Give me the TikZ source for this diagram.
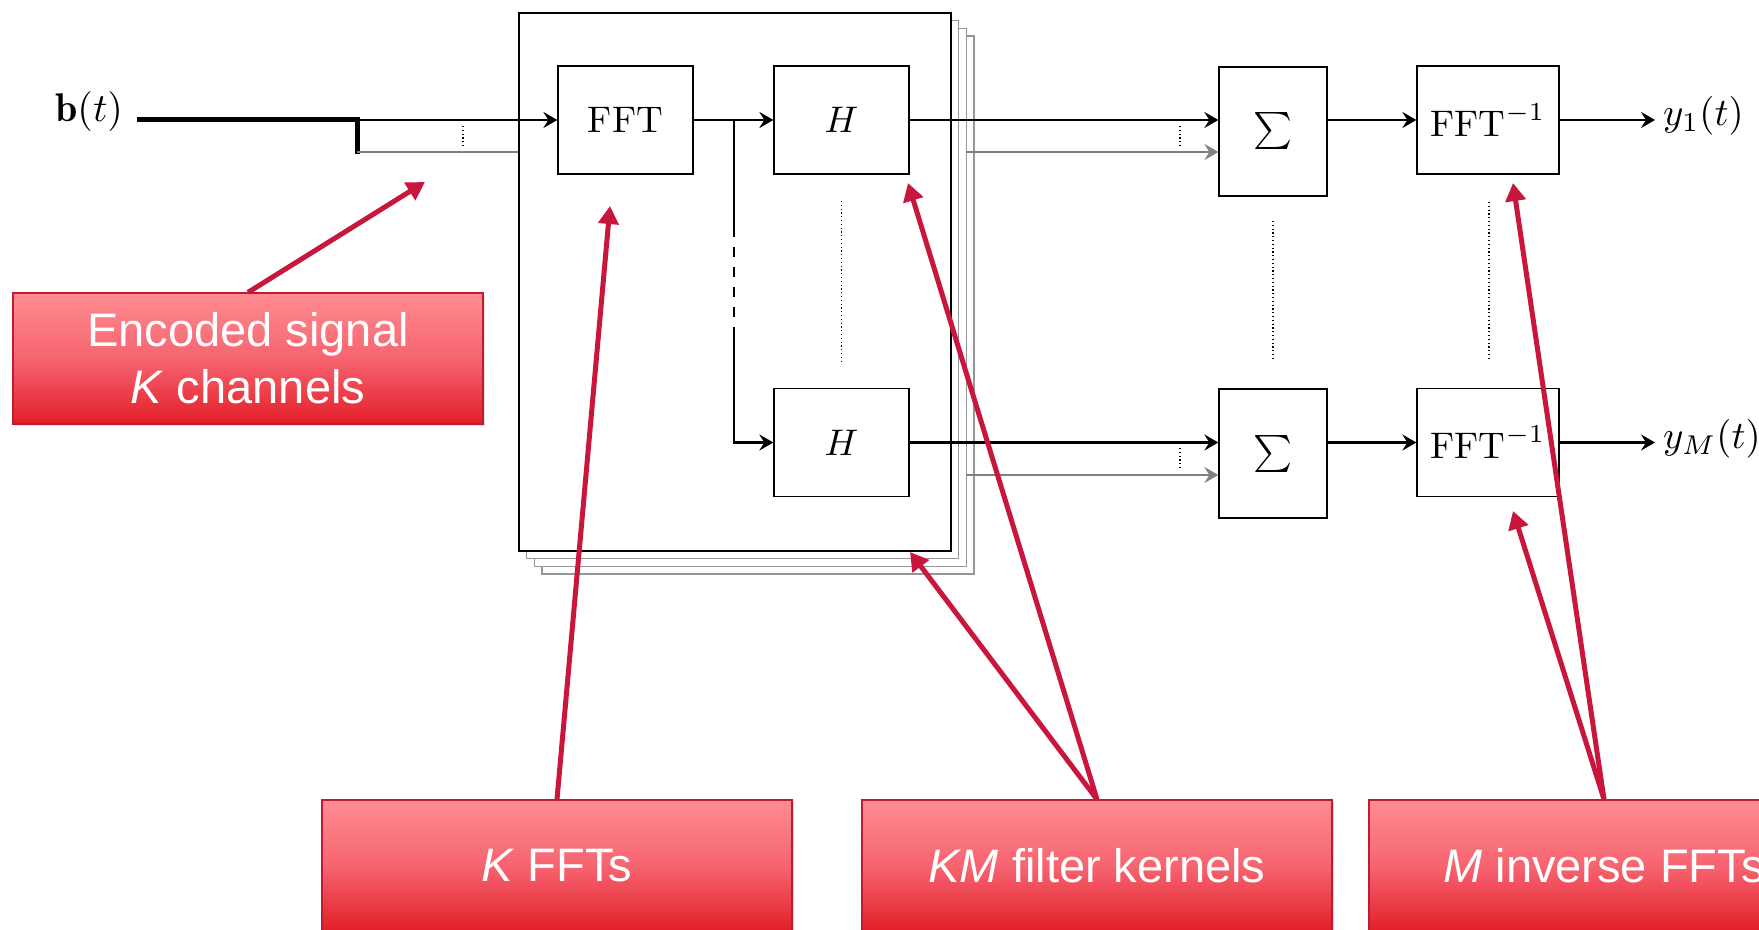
\documentclass[tikz,border=0pt]{standalone}
\usepackage{fontspec}
\newfontfamily\callfont{Liberation Sans}
\usetikzlibrary{arrows.meta,shadows}
\newcommand{\mtx}[1]{\scalebox{1.85}{$#1$}}
\newcommand{\mtl}[1]{\scalebox{2.0}{$#1$}}
\newcommand{\mto}[1]{\scalebox{1.94}{$#1$}}
\definecolor{arrred}{RGB}{200,22,60}
\definecolor{boxtop}{RGB}{255,140,145}
\definecolor{boxmid}{RGB}{246,100,112}
\definecolor{boxbot}{RGB}{226,30,40}
\definecolor{boxedge}{RGB}{190,28,52}
\definecolor{stackgray}{RGB}{150,150,150}
\definecolor{sidegray}{RGB}{128,128,128}
\begin{document}
\begin{tikzpicture}[x=0.5pt,y=-0.5pt,
  blk/.style={draw,line width=0.65pt,fill=white,minimum width=67.5pt,minimum height=54pt,inner sep=0pt},
  framebox/.style={draw,line width=0.65pt,fill=white,minimum width=216pt,minimum height=269pt,inner sep=0pt},
  stackbox/.style={framebox,draw=stackgray},
  flow/.style={line width=1.1pt,-{Stealth[length=7pt,width=8pt,inset=2.5pt]}},
  gflow/.style={flow,draw=sidegray},
  dots/.style={line width=0.6pt,dash pattern=on 0.6pt off 1.3pt},
  callout/.style={draw=boxedge,line width=0.6pt,top color=boxtop,bottom color=boxbot,middle color=boxmid,minimum width=235pt,minimum height=65.5pt,align=center,text=white,font=\callfont\fontsize{23.5}{28.5}\selectfont,drop shadow={opacity=0.25,shadow xshift=1pt,shadow yshift=-1pt}},
  pointer/.style={draw=arrred,line width=2.5pt,-{Triangle[length=9pt,width=10pt]}},
  lbl/.style={inner sep=0pt}
]
\useasboundingbox (0,0) rectangle (1759,930);
\clip (0,0) rectangle (1759,930);

% stacked frames
\node[stackbox] (st3) at (758.1,305.1) {};
\node[stackbox] (st2) at (750.4,297.4) {};
\node[stackbox] (st1) at (742.7,289.7) {};
\node[framebox] (frame) at (735,282) {};

% blocks
\node[blk] (fft) at (625.5,120) {\mtx{\mathrm{FFT}}};
\node[blk] (h1) at (841.5,120) {\mtx{H}};
\node[blk] (h2) at (841.5,442.5) {\mtx{H}};
\node[blk,minimum width=54pt,minimum height=64.5pt] (s1) at (1273,131.5) {\mtx{\sum}};
\node[blk,minimum width=54pt,minimum height=64.5pt] (s2) at (1273,453.5) {\mtx{\sum}};
\node[blk,minimum width=71pt] (i1) at (1488,120) {\mtx{\mathrm{FFT}^{-1}}};
\node[blk,minimum width=71pt] (i2) at (1488,442.5) {\mtx{\mathrm{FFT}^{-1}}};

% labels
\node[lbl,anchor=east,outer sep=7pt] (bt) at (137,111.5) {\mtl{\mathbf{b}(t)}};
\node[lbl,anchor=west,outer sep=4pt] (y1) at (1655,116) {\mto{y_1(t)}};
\node[lbl,anchor=west,outer sep=4pt] (yM) at (1655,439) {\mto{y_M(t)}};

% input
\coordinate (split) at (357,120);
\coordinate (splitb) at (357,154);
\coordinate (g0) at (357,152);
\draw[line width=2.5pt] (bt.east |- split) -- (split) -- (splitb);
\draw[flow] (split) -- (fft.west);
\draw[line width=1.1pt,draw=sidegray] (g0) -- (g0 -| frame.west);
\draw[dots] (463,126) -- (463,147);

% FFT to filters
\coordinate (j0) at (734,120);
\coordinate (j1) at (734,227);
\coordinate (j2) at (734,335);
\draw[flow] (fft.east) -- (h1.west);
\draw[line width=1.1pt] (j0) -- (j1);
\draw[line width=1.1pt,dash pattern=on 5pt off 5pt] (j1) -- (j2);
\draw[flow] (j2) |- (h2.west);
\draw[dots] (841.5,201) -- (841.5,362);

% filters to sums
\coordinate (g1) at (966,152);
\coordinate (g2) at (966,475);
\draw[flow] (h1.east) -- (h1.east -| s1.west);
\draw[gflow] (g1) -- (g1 -| s1.west);
\draw[dots] (1180,126) -- (1180,147);
\draw[flow] (h2.east) -- (h2.east -| s2.west);
\draw[gflow] (g2) -- (g2 -| s2.west);
\draw[dots] (1180,448) -- (1180,469);
\draw[dots] (1273,221) -- (1273,361);

% sums to inverse FFTs to outputs
\draw[flow] (s1.east |- i1.west) -- (i1.west);
\draw[flow] (s2.east |- i2.west) -- (i2.west);
\draw[dots] (1489,202) -- (1489,361);
\draw[flow] (i1.east) -- (i1.east -| y1.west);
\draw[flow] (i2.east) -- (i2.east -| yM.west);

% callouts
\node[callout] (c1) at (248,358.5) {Encoded signal\\\textit{K} channels};
\node[callout,minimum height=66pt] (c2) at (557,866) {\textit{K} FFTs};
\node[callout,minimum height=66pt] (c3) at (1097,866) {\textit{KM} filter kernels};
\node[callout,minimum height=66pt] (c4) at (1604,866) {\textit{M} inverse FFTs};

\coordinate (t1) at (425,182);
\coordinate (t2) at (610,206);
\coordinate (t3) at (908,183);
\coordinate (t4) at (910,552);
\coordinate (t5) at (1513,183);
\coordinate (t6) at (1513,511);
\draw[pointer] (c1.north) -- (t1);
\draw[pointer] (c2.north) -- (t2);
\draw[pointer] (c3.north) -- (t3);
\draw[pointer] (c3.north) -- (t4);
\draw[pointer] (c4.north) -- (t5);
\draw[pointer] (c4.north) -- (t6);
\end{tikzpicture}
\end{document}
